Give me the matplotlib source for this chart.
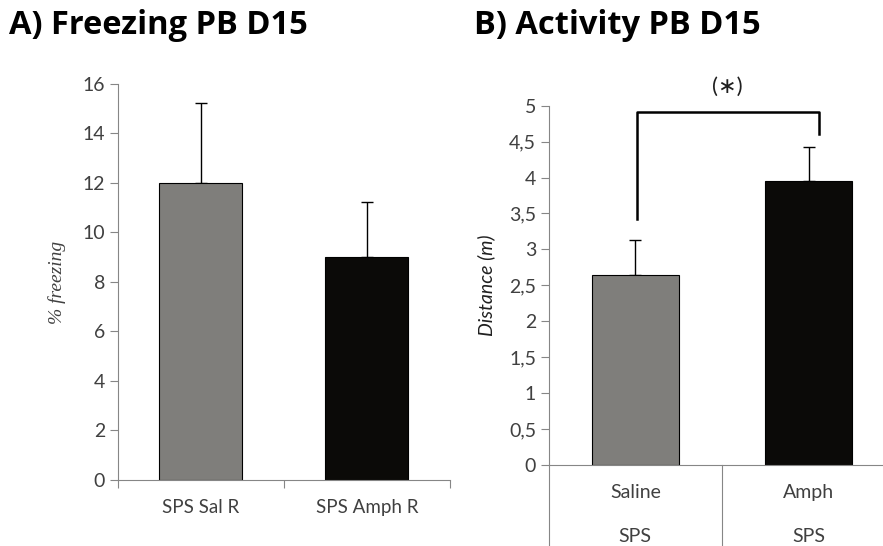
import matplotlib
matplotlib.use("Agg")
import matplotlib.pyplot as plt
from matplotlib.ticker import FuncFormatter

# panel A data
freeze_labels = ["SPS Sal R", "SPS Amph R"]
freeze_mean = [12.0, 9.0]
freeze_err = [3.25, 2.23]

# panel B data
act_labels = ["Saline", "Amph"]
act_group = ["SPS", "SPS"]
act_mean = [2.65, 3.95]
act_err = [0.48, 0.47]

bar_colors = ["#7f7e7b", "#0b0a08"]
axis_gray = "#868686"
text_gray = "#404040"

plt.rcParams["font.family"] = ["Lato", "DejaVu Sans"]

fig = plt.figure(figsize=(8.83, 5.46), dpi=100)

# ---------- A ----------
ax1 = fig.add_axes([0.1333, 0.1209, 0.3763, 0.7253])
x = range(len(freeze_mean))
ax1.bar(x, freeze_mean, width=0.5, color=bar_colors, edgecolor="black", linewidth=0.8, zorder=2)
ax1.errorbar(x, freeze_mean, yerr=[[0, 0], freeze_err], fmt="none", ecolor="black",
             elinewidth=1, capsize=4, capthick=1, zorder=1)
ax1.set_xlim(-0.5, 1.5)
ax1.set_ylim(0, 16)
ax1.set_yticks(range(0, 17, 2))
ax1.set_xticks([-0.5, 0.5, 1.5])
ax1.set_xticklabels([])
ax1.tick_params(axis="x", length=6, color=axis_gray, direction="out")
for i, lab in enumerate(freeze_labels):
    ax1.text(i, -1.13, lab, ha="center", va="center", fontsize=13.5, color=text_gray)
ax1.tick_params(axis="y", length=6, color=axis_gray, labelsize=14, labelcolor=text_gray, pad=3)
ax1.set_ylabel("% freezing", fontsize=14, style="italic", color=text_gray, labelpad=12,
               family=["Liberation Serif"])
for s in ["top", "right"]:
    ax1.spines[s].set_visible(False)
for s in ["left", "bottom"]:
    ax1.spines[s].set_color(axis_gray)

# ---------- B ----------
ax2 = fig.add_axes([0.6214, 0.1484, 0.3786, 0.6580])
x2 = range(len(act_mean))
ax2.bar(x2, act_mean, width=0.5, color=bar_colors, edgecolor="black", linewidth=0.8, zorder=2)
ax2.errorbar(x2, act_mean, yerr=[[0, 0], act_err], fmt="none", ecolor="black",
             elinewidth=1, capsize=4, capthick=1, zorder=1)
ax2.set_xlim(-0.5, 1.43)
ax2.set_ylim(0, 5)
ax2.set_yticks([i * 0.5 for i in range(11)])
ax2.yaxis.set_major_formatter(FuncFormatter(lambda v, p: ("%g" % v).replace(".", ",")))
ax2.tick_params(axis="y", length=6, color=axis_gray, labelsize=14, labelcolor=text_gray, pad=3)
ax2.set_xticks([])
ax2.set_ylabel("Distance (m)", fontsize=14, style="italic", color="#202020", labelpad=10)
for s in ["top", "right"]:
    ax2.spines[s].set_visible(False)
for s in ["left", "bottom"]:
    ax2.spines[s].set_color(axis_gray)

# table-like category axis below
ax2.plot([-0.5, -0.5], [0, -1.2], color=axis_gray, lw=0.8, clip_on=False)
ax2.plot([0.5, 0.5], [0, -1.2], color=axis_gray, lw=0.8, clip_on=False)
for i, (lab, grp) in enumerate(zip(act_labels, act_group)):
    ax2.text(i, -0.39, lab, ha="center", va="center", fontsize=14, color=text_gray)
    ax2.text(i, -1.0, grp, ha="center", va="center", fontsize=14, color=text_gray)

# significance bracket
ax2.plot([0.01, 0.01, 1.06, 1.06], [3.42, 4.91, 4.91, 4.6], color="black", lw=1.8,
         clip_on=False, zorder=3)
ax2.text(0.53, 5.26, "(\u2217)", ha="center", va="center", fontsize=16, color="#202020")

# titles
fig.text(0.010, 0.953, "A) Freezing PB D15", fontsize=23.5, fontweight="bold", va="center",
         family=["Open Sans", "DejaVu Sans"])
fig.text(0.537, 0.953, "B) Activity PB D15", fontsize=23.5, fontweight="bold", va="center",
         family=["Open Sans", "DejaVu Sans"])

fig.savefig("out.png", dpi=100)
